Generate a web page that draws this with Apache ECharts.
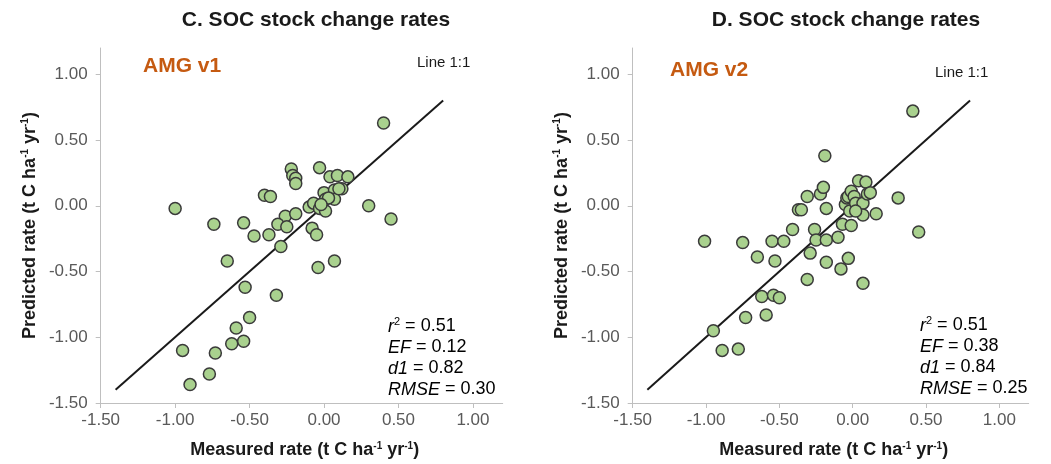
<!DOCTYPE html>
<html>
<head>
<meta charset="utf-8">
<script src="https://cdn.jsdelivr.net/npm/echarts@6/dist/echarts.min.js"></script>
<style>
html,body{margin:0;padding:0;background:#fff;}
#chart{width:1051px;height:464px;}
</style>
</head>
<body>
<div id="chart"></div>
<script>
// ---- data ----
const tickValues = [-1.5, -1.0, -0.5, 0.0, 0.5, 1.0];
const oneToOne = [-1.4, 0.8];

const v1Measured  = [-1.00,-0.74,-0.54,-0.40,-0.36,-0.22,-0.21,-0.19,-0.19,-0.03,0.04,0.09,0.16,0.00,0.07,0.12,0.01,0.07,-0.10,-0.07,-0.03,0.01,-0.26,-0.19,-0.31,-0.25,-0.08,-0.47,-0.37,-0.29,-0.05,-0.65,-0.04,0.07,-0.53,-0.32,-0.50,-0.59,-0.54,-0.62,-0.95,-0.73,-0.77,-0.90,0.40,0.30,0.45,0.10,0.03,-0.02];
const v1Predicted = [-0.02,-0.14,-0.13,0.08,0.07,0.28,0.23,0.21,0.17,0.29,0.22,0.23,0.22,0.10,0.12,0.13,0.05,0.05,-0.01,0.02,-0.02,-0.04,-0.08,-0.06,-0.14,-0.16,-0.17,-0.23,-0.22,-0.31,-0.22,-0.42,-0.47,-0.42,-0.62,-0.68,-0.85,-0.93,-1.03,-1.05,-1.10,-1.12,-1.28,-1.36,0.63,0.00,-0.10,0.13,0.06,0.01];

const v2Measured  = [-1.01,-0.95,-0.89,-0.78,-0.75,-0.73,-0.65,-0.62,-0.59,-0.55,-0.54,-0.53,-0.50,-0.47,-0.41,-0.37,-0.35,-0.31,-0.31,-0.29,-0.26,-0.25,-0.22,-0.20,-0.19,-0.18,-0.18,-0.18,-0.10,-0.08,-0.07,-0.05,-0.04,-0.03,-0.03,-0.02,-0.01,-0.01,0.01,0.02,0.04,0.07,0.07,0.07,0.09,0.10,0.12,0.16,0.31,0.41,0.45,0.02];
const v2Predicted = [-0.27,-0.95,-1.10,-1.09,-0.28,-0.85,-0.39,-0.69,-0.83,-0.27,-0.68,-0.42,-0.70,-0.27,-0.18,-0.03,-0.03,0.07,-0.56,-0.36,-0.18,-0.26,0.09,0.14,0.38,-0.02,-0.26,-0.43,-0.24,-0.48,-0.14,0.01,0.06,0.07,-0.40,-0.04,-0.15,0.11,0.07,0.02,0.19,0.02,-0.07,-0.59,0.18,0.09,0.10,-0.06,0.06,0.72,-0.20,-0.04];

const panelTitles = ['C. SOC stock change rates', 'D. SOC stock change rates'];
const modelLabels = ['AMG v1', 'AMG v2'];
const statsV1 = {r2: '0.51', EF: '0.12', d1: '0.82', RMSE: '0.30'};
const statsV2 = {r2: '0.51', EF: '0.38', d1: '0.84', RMSE: '0.25'};

// ---- chart ----
const FONT = '"Liberation Sans", Arial, sans-serif';
const zip = (a, b) => a.map((v, i) => [v, b[i]]);

const supRich = {
  sup: {fontSize: 10, fontWeight: 'bold', verticalAlign: 'top', fontFamily: FONT, color: '#1a1a1a', padding: [0,0,6,0]}
};

function xAxisCfg(g) {
  return {
    type: 'value', gridIndex: g, min: -1.5, max: 1.2, interval: 0.5,
    axisLine: {show: true, onZero: false, lineStyle: {color: '#bfbfbf', width: 1}},
    axisTick: {show: true, inside: false, length: 5, lineStyle: {color: '#bfbfbf'}, customValues: tickValues},
    axisLabel: {customValues: tickValues, formatter: v => v.toFixed(2), color: '#595959', fontSize: 17, margin: 9, fontFamily: FONT},
    splitLine: {show: false},
    name: 'Measured rate (t C ha{sup|-1} yr{sup|-1})',
    nameLocation: 'middle', nameGap: 38,
    nameTextStyle: {fontSize: 18, fontWeight: 'bold', color: '#1a1a1a', fontFamily: FONT, rich: supRich, padding: [0,0,0,6]}
  };
}
function yAxisCfg(g) {
  return {
    type: 'value', gridIndex: g, min: -1.5, max: 1.2, interval: 0.5,
    axisLine: {show: true, onZero: false, lineStyle: {color: '#bfbfbf', width: 1}},
    axisTick: {show: true, inside: false, length: 5, lineStyle: {color: '#bfbfbf'}, customValues: tickValues},
    axisLabel: {customValues: tickValues, formatter: v => v.toFixed(2), color: '#595959', fontSize: 17, margin: 13, fontFamily: FONT},
    splitLine: {show: false},
    name: 'Predicted rate (t C ha{sup|-1} yr{sup|-1})',
    nameLocation: 'middle', nameGap: 62,
    nameTextStyle: {fontSize: 18, fontWeight: 'bold', color: '#1a1a1a', fontFamily: FONT, rich: supRich}
  };
}

function scatterSeries(g, xs, ys) {
  return {
    type: 'scatter', xAxisIndex: g, yAxisIndex: g, data: zip(xs, ys), z: 3,
    symbol: 'circle', symbolSize: 12,
    itemStyle: {color: '#a9d18e', borderColor: '#3a3a3a', borderWidth: 1.5, opacity: 1}
  };
}
function lineSeries(g) {
  return {
    type: 'line', xAxisIndex: g, yAxisIndex: g, data: zip(oneToOne, oneToOne), z: 2,
    symbol: 'none', silent: true,
    lineStyle: {color: '#1a1a1a', width: 2}
  };
}

function statsText(s) {
  return '{i|r}{s|2}{n| = ' + s.r2 + '}\n{i|EF}{n| = ' + s.EF + '}\n{i|d1}{n| = ' + s.d1 + '}\n{i|RMSE}{n| = ' + s.RMSE + '}';
}
const statsRich = {
  i: {fontSize: 18, fontStyle: 'italic', fontFamily: FONT, color: '#1a1a1a', lineHeight: 21},
  n: {fontSize: 18, fontFamily: FONT, color: '#1a1a1a', lineHeight: 21},
  s: {fontSize: 11, fontFamily: FONT, color: '#1a1a1a', verticalAlign: 'top', lineHeight: 21, padding: [0,0,8,0]}
};

function txt(x, y, text, style) {
  return {type: 'text', x: x, y: y, style: Object.assign({text: text, fontFamily: FONT}, style)};
}

const chart = echarts.init(document.getElementById('chart'), null, {renderer: 'canvas'});
chart.setOption({
  backgroundColor: '#ffffff',
  animation: false,
  grid: [
    {left: 100.7, top: 48, width: 402, height: 357},
    {left: 632.7, top: 48, width: 396, height: 357}
  ],
  xAxis: [xAxisCfg(0), xAxisCfg(1)],
  yAxis: [yAxisCfg(0), yAxisCfg(1)],
  series: [
    lineSeries(0), scatterSeries(0, v1Measured, v1Predicted),
    lineSeries(1), scatterSeries(1, v2Measured, v2Predicted)
  ],
  graphic: [
    txt(316, 20, panelTitles[0], {fontSize: 21, fontWeight: 'bold', fill: '#1a1a1a', align: 'center', verticalAlign: 'middle'}),
    txt(846, 20, panelTitles[1], {fontSize: 21, fontWeight: 'bold', fill: '#1a1a1a', align: 'center', verticalAlign: 'middle'}),
    txt(143, 66, modelLabels[0], {fontSize: 21, fontWeight: 'bold', fill: '#c55a11', align: 'left', verticalAlign: 'middle'}),
    txt(670, 70, modelLabels[1], {fontSize: 21, fontWeight: 'bold', fill: '#c55a11', align: 'left', verticalAlign: 'middle'}),
    txt(417, 63, 'Line 1:1', {fontSize: 15, fill: '#1a1a1a', align: 'left', verticalAlign: 'middle'}),
    txt(935, 73, 'Line 1:1', {fontSize: 15, fill: '#1a1a1a', align: 'left', verticalAlign: 'middle'}),
    txt(388, 316, statsText(statsV1), {rich: statsRich, align: 'left', verticalAlign: 'top'}),
    txt(920, 315, statsText(statsV2), {rich: statsRich, align: 'left', verticalAlign: 'top'})
  ]
});
</script>
</body>
</html>
